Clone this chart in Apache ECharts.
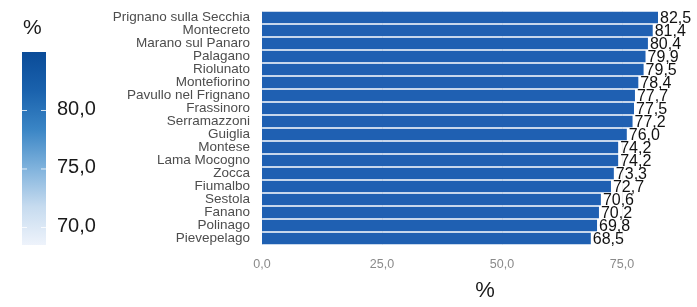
<!DOCTYPE html>
<html>
<head>
<meta charset="utf-8">
<script src="https://cdn.jsdelivr.net/npm/echarts@6/dist/echarts.min.js"></script>
<style>
  html, body { margin: 0; padding: 0; background: #fff; }
  #chart { width: 697px; height: 307px; }
</style>
</head>
<body>
<div id="chart"></div>
<script>
// comuni (top -> bottom)
const comuni = [
  'Prignano sulla Secchia', 'Montecreto', 'Marano sul Panaro', 'Palagano',
  'Riolunato', 'Montefiorino', 'Pavullo nel Frignano', 'Frassinoro',
  'Serramazzoni', 'Guiglia', 'Montese', 'Lama Mocogno', 'Zocca',
  'Fiumalbo', 'Sestola', 'Fanano', 'Polinago', 'Pievepelago'
]
const valori = [82.5, 81.4, 80.4, 79.9, 79.5, 78.4, 77.7, 77.5, 77.2,
  76.0, 74.2, 74.2, 73.3, 72.7, 70.6, 70.2, 69.8, 68.5]
const xTicks = [0, 25, 50, 75]
const legendTicks = [70, 75, 80]
const legendColors = ['#0a4b98', '#1a62ad', '#3a85c5', '#7fb2dc', '#c6dbef', '#eef3fb']

// scala colore della legenda
const vmMin = 68.5
const vmMax = 85
const vmTop = 52
const vmHeight = 193
const vmLeft = 22
const vmWidth = 24

const FONT = 'Liberation Sans, Arial, sans-serif'
const fmt = v => v.toFixed(1).replace('.', ',')

// colorbar (rettangolo con gradiente), etichette e tacche
const legendGraphics = [{
  type: 'rect',
  shape: { x: vmLeft, y: vmTop, width: vmWidth, height: vmHeight },
  style: {
    fill: new echarts.graphic.LinearGradient(0, 0, 0, 1,
      legendColors.map((c, i) => ({ offset: i / (legendColors.length - 1), color: c })))
  }
}]
legendTicks.forEach(v => {
  const y = vmTop + vmHeight * (vmMax - v) / (vmMax - vmMin)
  legendGraphics.push({
    type: 'text', left: 57, top: y - 11,
    style: { text: fmt(v), fontSize: 20, fontFamily: FONT, fill: '#1a1a1a' },
    z: 10
  })
  legendGraphics.push({
    type: 'line', shape: { x1: vmLeft, y1: y, x2: vmLeft + 5, y2: y },
    style: { stroke: 'rgba(255,255,255,0.8)', lineWidth: 1 }, z: 10
  })
  legendGraphics.push({
    type: 'line', shape: { x1: vmLeft + vmWidth - 5, y1: y, x2: vmLeft + vmWidth, y2: y },
    style: { stroke: 'rgba(255,255,255,0.8)', lineWidth: 1 }, z: 10
  })
})
legendGraphics.push({
  type: 'text', left: 23, top: 18,
  style: { text: '%', fontSize: 21, fontFamily: FONT, fill: '#1a1a1a' }
})

const chart = echarts.init(document.getElementById('chart'))

const option = {
  animation: false,
  grid: { left: 262, right: 0, top: 11, bottom: 56.5, containLabel: false },
  xAxis: {
    type: 'value',
    min: 0,
    max: 90,
    interval: 25,
    name: '%',
    nameLocation: 'middle',
    nameGap: 35,
    nameTextStyle: { fontSize: 22, color: '#1a1a1a', fontFamily: FONT, padding: [0, 0, 0, 14] },
    axisLine: { show: false },
    axisTick: { show: false },
    axisLabel: {
      margin: 13,
      fontSize: 12.5,
      color: '#8a8a8a',
      fontFamily: FONT,
      formatter: v => xTicks.includes(v) ? fmt(v) : ''
    },
    splitLine: { show: true, showMaxLine: false, lineStyle: { color: '#f0f0f0', width: 1 } }
  },
  yAxis: {
    type: 'category',
    data: comuni,
    inverse: true,
    axisLine: { show: false },
    axisTick: { show: false },
    axisLabel: {
      interval: 0,
      margin: 12,
      fontSize: 13.5,
      color: '#4d4d4d',
      fontFamily: FONT
    },
    splitLine: { show: false }
  },
  graphic: legendGraphics,
  series: [
    {
      type: 'bar',
      data: valori,
      barCategoryGap: '13%',
      itemStyle: { color: '#1f60b2' },
      label: {
        show: true,
        position: 'right',
        distance: 2,
        offset: [0, 1],
        fontSize: 16,
        color: '#111',
        fontFamily: FONT,
        formatter: p => fmt(p.value)
      }
    }
  ]
}

chart.setOption(option)
</script>
</body>
</html>
